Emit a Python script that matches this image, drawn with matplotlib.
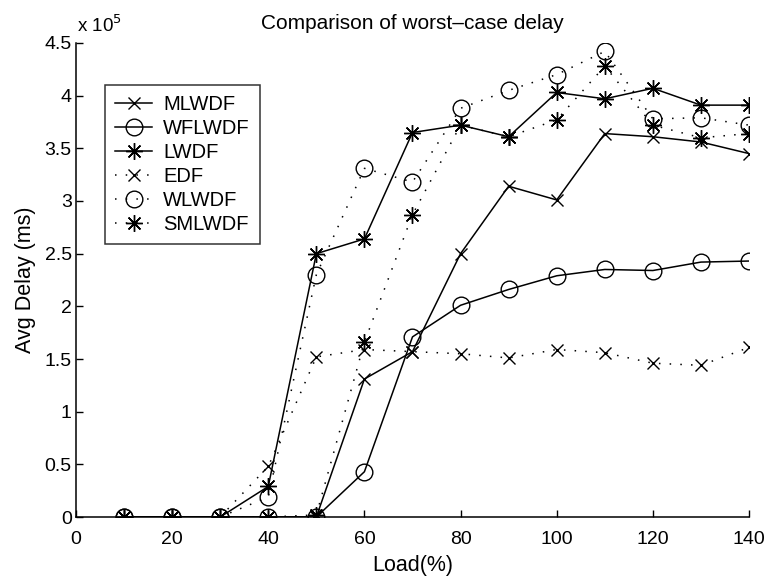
import numpy as np
import matplotlib
matplotlib.use('Agg')
import matplotlib.pyplot as plt

plt.rcParams['font.family'] = ['Liberation Sans', 'DejaVu Sans']

# Carga (%) e atraso medio (em unidades de 1e5)
load = [10, 20, 30, 40, 50, 60, 70, 80, 90, 100, 110, 120, 130, 140]
mlwdf  = [0, 0, 0, 0, 0.0, 1.31, 1.57, 2.50, 3.14, 3.01, 3.64, 3.61, 3.56, 3.45]
wflwdf = [0, 0, 0, 0, 0.0, 0.43, 1.71, 2.01, 2.16, 2.29, 2.35, 2.34, 2.42, 2.43]
lwdf   = [0, 0, 0, 0.29, 2.50, 2.64, 3.65, 3.72, 3.61, 4.03, 3.97, 4.07, 3.91, 3.91]
edf    = [0, 0, 0, 0.48, 1.52, 1.59, 1.57, 1.55, 1.51, 1.59, 1.56, 1.46, 1.44, 1.61]
wlwdf  = [0, 0, 0, 0.19, 2.30, 3.31, 3.18, 3.88, 4.05, 4.20, 4.42, 3.78, 3.79, 3.72]
smlwdf = [0, 0, 0, 0, 0.02, 1.66, 2.87, 3.72, 3.61, 3.77, 4.28, 3.72, 3.60, 3.64]

xticks = [0, 20, 40, 60, 80, 100, 120, 140]
yticks = [0, 0.5, 1, 1.5, 2, 2.5, 3, 3.5, 4, 4.5]

star = (8, 2, 0)   # asterisco estilo MATLAB
dots = (0, (1, 6))

fig = plt.figure(figsize=(7.69, 5.80), dpi=100)
ax = fig.add_axes([0.0988, 0.1086, 0.8752, 0.8173])

kw = dict(color='k', lw=1.1, mfc='none', mec='k', mew=1.0)
ax.plot(load, mlwdf, '-', marker='x', ms=9, label='MLWDF', **kw)
ax.plot(load, wflwdf, '-', marker='o', ms=12, label='WFLWDF', **kw)
ax.plot(load, lwdf, '-', marker=star, ms=12, label='LWDF', **kw)
ax.plot(load, edf, ls=dots, marker='x', ms=9, label='EDF', **kw)
ax.plot(load, wlwdf, ls=dots, marker='o', ms=12, label='WLWDF', **kw)
ax.plot(load, smlwdf, ls=dots, marker=star, ms=12, label='SMLWDF', **kw)

ax.set_xlim(0, 140)
ax.set_ylim(0, 4.5)
ax.set_xticks(xticks)
ax.set_yticks(yticks)
ax.set_yticklabels(['%g' % v for v in yticks])
ax.tick_params(direction='in', length=5, width=1, labelsize=14)
ax.tick_params(axis='x', pad=10)
ax.tick_params(axis='y', pad=3)
ax.spines['top'].set_visible(False)
ax.spines['right'].set_visible(False)
for s in ['left', 'bottom']:
    ax.spines[s].set_linewidth(1.1)

ax.set_title('Comparison of worst\u2013case delay', fontsize=15, pad=10)
ax.set_xlabel('Load(%)', fontsize=15.5, labelpad=5)
ax.set_ylabel('Avg Delay (ms)', fontsize=15.5, labelpad=6)
ax.text(0.002, 1.023, 'x 10$^5$', transform=ax.transAxes, fontsize=13.5,
        ha='left', va='baseline')

leg = ax.legend(loc='upper left', bbox_to_anchor=(0.043, 0.911), fontsize=14.5,
                frameon=True, fancybox=False, edgecolor='k', handlelength=1.85,
                borderpad=0.5, labelspacing=0.25, handletextpad=0.55,
                borderaxespad=0)
leg.get_frame().set_linewidth(1.1)

fig.savefig('out.png', dpi=100)
